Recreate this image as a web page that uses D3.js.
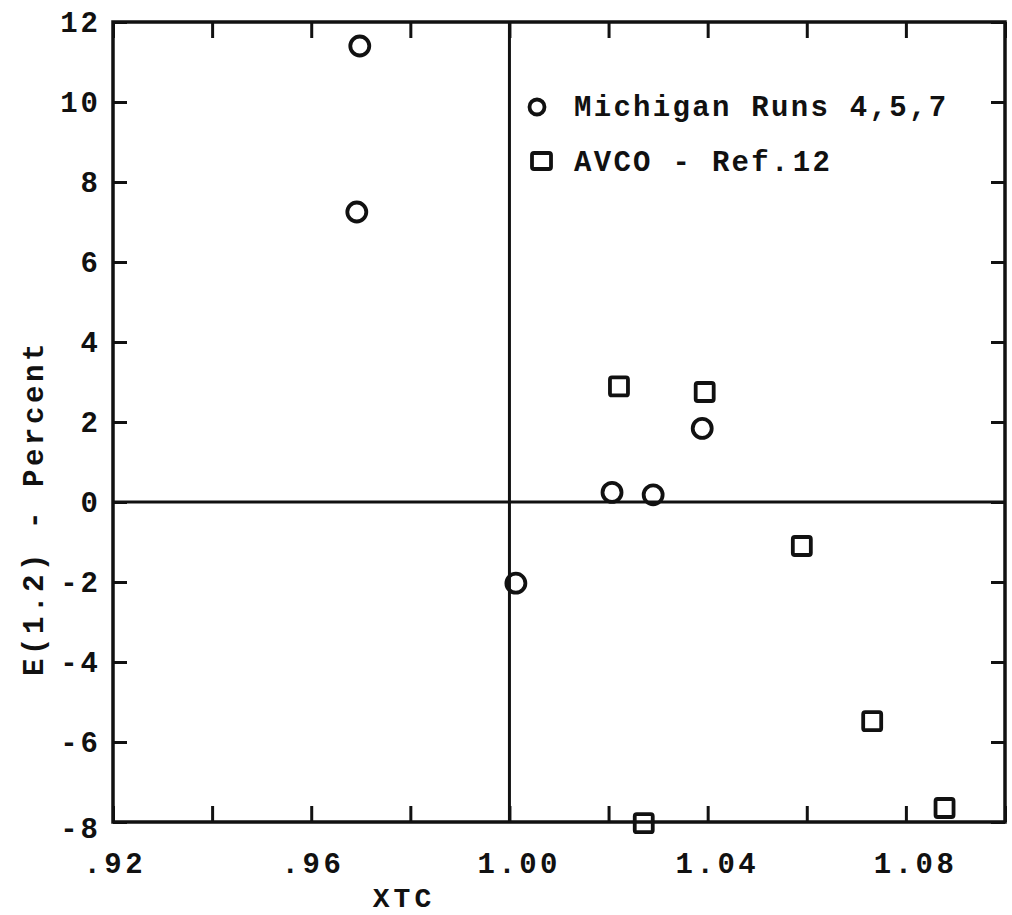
<!DOCTYPE html>
<html>
<head>
<meta charset="utf-8">
<script src="https://cdn.jsdelivr.net/npm/d3@7"></script>
<style>
  html, body { margin: 0; padding: 0; background: #fff; }
  svg { display: block; }
  text { font-family: "Liberation Mono", "Courier New", monospace; font-weight: bold; fill: #111; }
</style>
</head>
<body>
<svg id="chart" width="1012" height="915"></svg>
<script>
// Michigan runs 4, 5, 7 (circles): [XTC, E(1.2) %]
const michiganX = [0.9698, 0.9692, 1.0013, 1.0207, 1.0290, 1.0389];
const michiganY = [11.4, 7.25, -2.03, 0.24, 0.18, 1.84];

// AVCO, Ref. 12 (squares)
const avcoX = [1.0221, 1.0394, 1.0590, 1.0732, 1.0878, 1.0271];
const avcoY = [2.89, 2.75, -1.10, -5.48, -7.65, -8.03];

const xTickValues = [0.92, 0.94, 0.96, 0.98, 1.00, 1.02, 1.04, 1.06, 1.08, 1.10];
const xTickLabels = [".92", ".96", "1.00", "1.04", "1.08"];
const xLabelValues = [0.92, 0.96, 1.00, 1.04, 1.08];
const yTickValues = [-8, -6, -4, -2, 0, 2, 4, 6, 8, 10, 12];
const yTickLabels = ["-8", "-6", "-4", "-2", "0", "2", "4", "6", "8", "10", "12"];

const seriesNames = ["Michigan Runs 4,5,7", "AVCO - Ref."];
const xTitle = "XTC";
const yTitle = "E(1.2) - Percent";

const W = 1012, H = 915;
const margin = { top: 22, right: 7, bottom: 93, left: 113 };
const iw = W - margin.left - margin.right;
const ih = H - margin.top - margin.bottom;

const svg = d3.select("#chart");
const g = svg.append("g").attr("transform", `translate(${margin.left},${margin.top})`);

const x = d3.scaleLinear().domain([0.92, 1.10]).range([0, iw]);
const y = d3.scaleLinear().domain([-8, 12]).range([ih, 0]);

const ink = "#111";

// inward ticks on all four sides
const tickX = 16, tickY = 14;
function styleAxis(sel) {
  sel.select(".domain").remove();
  sel.selectAll(".tick line").attr("stroke", ink).attr("stroke-width", 3);
  sel.selectAll(".tick text").remove();
}
g.append("g").attr("transform", `translate(0,${ih})`)
  .call(d3.axisBottom(x).tickValues(xTickValues).tickSize(-tickX).tickFormat(""))
  .call(styleAxis);
g.append("g")
  .call(d3.axisTop(x).tickValues(xTickValues).tickSize(-tickX).tickFormat(""))
  .call(styleAxis);
g.append("g")
  .call(d3.axisLeft(y).tickValues(yTickValues).tickSize(-tickY).tickFormat(""))
  .call(styleAxis);
g.append("g").attr("transform", `translate(${iw},0)`)
  .call(d3.axisRight(y).tickValues(yTickValues).tickSize(-tickY).tickFormat(""))
  .call(styleAxis);

// frame
g.append("rect").attr("x", 0).attr("y", 0).attr("width", iw).attr("height", ih)
  .attr("fill", "none").attr("stroke", ink).attr("stroke-width", 3.5);

// reference lines at XTC = 1.00 and E = 0
g.append("line").attr("x1", x(1.0)).attr("x2", x(1.0)).attr("y1", 0).attr("y2", ih)
  .attr("stroke", ink).attr("stroke-width", 3);
g.append("line").attr("x1", 0).attr("x2", iw).attr("y1", y(0)).attr("y2", y(0))
  .attr("stroke", ink).attr("stroke-width", 3);

// tick labels
const lsTick = 3.5;
g.append("g").selectAll("text").data(xLabelValues).join("text")
  .attr("x", d => x(d))
  .attr("dx", (d, i) => (xTickLabels[i].length === 4 ? 8 : 0) + lsTick / 2)
  .attr("y", ih + 51)
  .attr("text-anchor", "middle")
  .attr("font-size", 29)
  .attr("letter-spacing", lsTick)
  .text((d, i) => xTickLabels[i]);

g.append("g").selectAll("text").data(yTickValues).join("text")
  .attr("x", -15 + 3)
  .attr("y", d => y(d) + 10 + (d === -8 ? 6 : 0))
  .attr("text-anchor", "end")
  .attr("font-size", 29)
  .attr("letter-spacing", 3)
  .text((d, i) => yTickLabels[i]);

// axis titles
svg.append("text").attr("x", 404).attr("y", 907)
  .attr("text-anchor", "middle").attr("font-size", 28).attr("letter-spacing", 4).text(xTitle);
svg.append("text")
  .attr("transform", "translate(43,508) rotate(-90)")
  .attr("text-anchor", "middle").attr("font-size", 29).attr("letter-spacing", 3.6).text(yTitle);

// markers
const circR = 9.5, sq = 18, mk = 3.8;
const michigan = michiganX.map((v, i) => ({ x: v, y: michiganY[i] }));
const avco = avcoX.map((v, i) => ({ x: v, y: avcoY[i] }));

g.append("g").selectAll("circle").data(michigan).join("circle")
  .attr("cx", d => x(d.x)).attr("cy", d => y(d.y)).attr("r", circR)
  .attr("fill", "none").attr("stroke", ink).attr("stroke-width", mk);

g.append("g").selectAll("rect").data(avco).join("rect")
  .attr("x", d => x(d.x) - sq / 2).attr("y", d => y(d.y) - sq / 2)
  .attr("width", sq).attr("height", sq).attr("rx", 2)
  .attr("fill", "none").attr("stroke", ink).attr("stroke-width", mk);

// legend
const leg = svg.append("g");
leg.append("circle").attr("cx", 537).attr("cy", 107).attr("r", 7.5)
  .attr("fill", "none").attr("stroke", ink).attr("stroke-width", 3.8);
leg.append("text").attr("x", 574).attr("y", 116).attr("font-size", 29)
  .attr("letter-spacing", 2.3).text(seriesNames[0]);
leg.append("rect").attr("x", 532).attr("y", 153).attr("width", 19).attr("height", 16).attr("rx", 2)
  .attr("fill", "none").attr("stroke", ink).attr("stroke-width", 3.8);
const t2 = leg.append("text").attr("x", 574).attr("y", 171).attr("font-size", 29)
  .attr("letter-spacing", 2.3).text(seriesNames[1]);
t2.append("tspan").attr("dx", 2).text("12");
</script>
</body>
</html>
